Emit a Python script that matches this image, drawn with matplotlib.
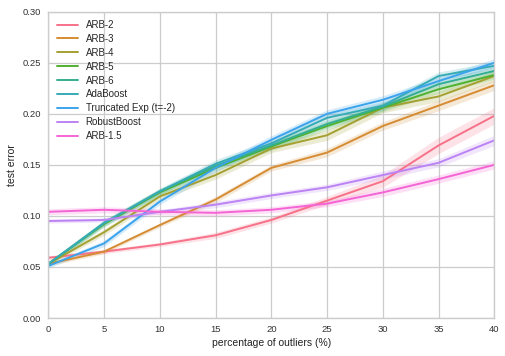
import numpy as np
import matplotlib
matplotlib.use("Agg")
import matplotlib.pyplot as plt
import seaborn as sns

# percentage of outliers
outliers = [0, 5, 10, 15, 20, 25, 30, 35, 40]

names = ["ARB-2", "ARB-3", "ARB-4", "ARB-5", "ARB-6", "AdaBoost",
         "Truncated Exp (t=-2)", "RobustBoost", "ARB-1.5"]

# mean test error
arb2 = [0.059, 0.065, 0.072, 0.081, 0.096, 0.115, 0.134, 0.169, 0.198]
arb3 = [0.053, 0.065, 0.091, 0.116, 0.147, 0.162, 0.188, 0.208, 0.228]
arb4 = [0.053, 0.084, 0.119, 0.140, 0.166, 0.179, 0.206, 0.217, 0.237]
arb5 = [0.053, 0.092, 0.123, 0.147, 0.168, 0.188, 0.206, 0.224, 0.238]
arb6 = [0.053, 0.093, 0.124, 0.149, 0.169, 0.190, 0.207, 0.229, 0.242]
adaboost = [0.053, 0.093, 0.124, 0.151, 0.171, 0.196, 0.208, 0.237, 0.247]
truncated = [0.051, 0.073, 0.114, 0.147, 0.1745, 0.200, 0.2137, 0.232, 0.250]
robust = [0.095, 0.096, 0.104, 0.111, 0.120, 0.128, 0.140, 0.152, 0.174]
arb15 = [0.104, 0.106, 0.104, 0.103, 0.106, 0.112, 0.123, 0.136, 0.150]

# half width of the shaded band
err_arb2 = [0.002, 0.002, 0.002, 0.003, 0.003, 0.004, 0.006, 0.008, 0.008]
err_arb3 = [0.002, 0.002, 0.002, 0.003, 0.003, 0.004, 0.004, 0.005, 0.005]
err_arb4 = [0.002, 0.003, 0.003, 0.004, 0.004, 0.005, 0.005, 0.005, 0.005]
err_arb5 = [0.002, 0.003, 0.003, 0.003, 0.004, 0.004, 0.004, 0.004, 0.004]
err_arb6 = [0.002, 0.003, 0.003, 0.003, 0.004, 0.004, 0.004, 0.004, 0.004]
err_ada = [0.002, 0.003, 0.003, 0.004, 0.004, 0.004, 0.004, 0.004, 0.004]
err_trunc = [0.002, 0.003, 0.003, 0.004, 0.004, 0.004, 0.004, 0.004, 0.004]
err_robust = [0.002, 0.002, 0.002, 0.003, 0.003, 0.003, 0.004, 0.004, 0.005]
err_arb15 = [0.003, 0.003, 0.003, 0.003, 0.003, 0.003, 0.004, 0.004, 0.004]

means = [arb2, arb3, arb4, arb5, arb6, adaboost, truncated, robust, arb15]
errs = [err_arb2, err_arb3, err_arb4, err_arb5, err_arb6, err_ada,
        err_trunc, err_robust, err_arb15]

sns.set_style("whitegrid", {"axes.edgecolor": "#cccccc", "grid.color": "#cccccc"})
plt.rcParams['font.family'] = ['Liberation Sans', 'DejaVu Sans']

colors = sns.color_palette("husl", 9)

fig = plt.figure(figsize=(5.06, 3.56), dpi=100)
ax = fig.add_axes([48.3 / 506, 38 / 356, 446 / 506, 306.3 / 356])

x = np.array(outliers)
for name, m, e, c in zip(names, means, errs, colors):
    m = np.array(m)
    e = np.array(e)
    ax.fill_between(x, m - e, m + e, color=c, alpha=0.2, linewidth=0)
    ax.plot(x, m, color=c, lw=1.4, label=name)

ax.set_xlim(0, 40)
ax.set_ylim(0, 0.30)
ax.set_yticks([0.0, 0.05, 0.10, 0.15, 0.20, 0.25, 0.30])
ax.set_yticklabels(["0.00", "0.05", "0.10", "0.15", "0.20", "0.25", "0.30"])
ax.tick_params(labelsize=6.8, colors="#333333", length=0, pad=5)
ax.set_xlabel("percentage of outliers (%)", fontsize=7.5, color="#222222", labelpad=3)
ax.set_ylabel("test error", fontsize=7.5, color="#222222", labelpad=4)
ax.grid(True, color="#cccccc", lw=0.9)
for s in ax.spines.values():
    s.set_color("#cccccc")
    s.set_linewidth(1.0)

ax.legend(loc="upper left", frameon=False, fontsize=7.0, handlelength=2.2,
          labelspacing=0.4, borderaxespad=0.45)

fig.savefig("out.png", dpi=100)
